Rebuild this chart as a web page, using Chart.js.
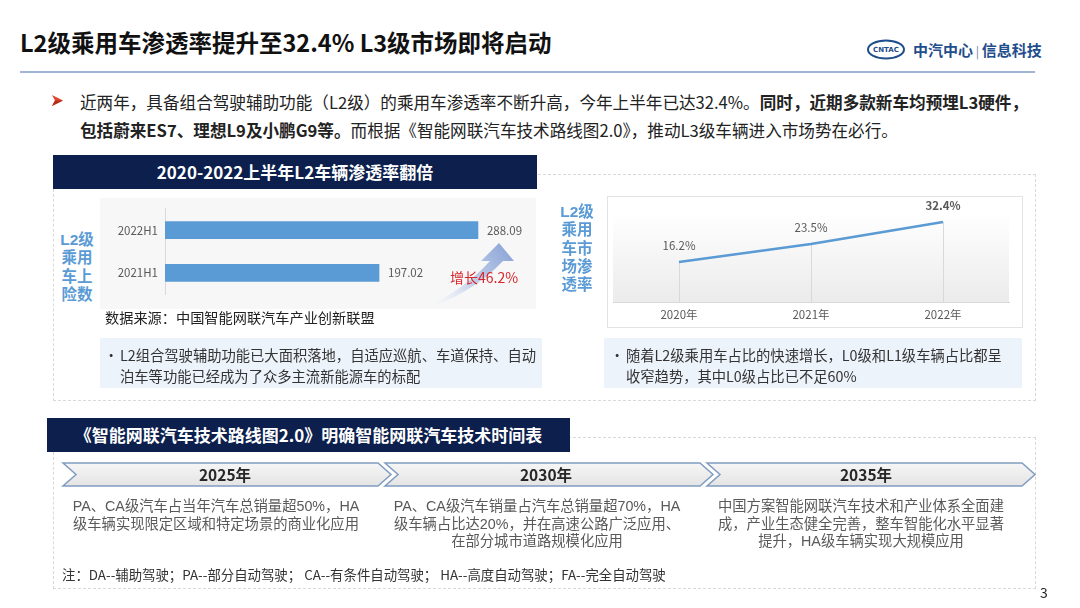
<!DOCTYPE html>
<html><head><meta charset="utf-8">
<script src="https://cdn.jsdelivr.net/npm/chart.js@4.4.1/dist/chart.umd.min.js"></script>
<style>
html,body{margin:0;padding:0}
body{width:1080px;height:608px;position:relative;background:#fff;font-family:"Noto Sans CJK SC","Noto Sans",sans-serif;overflow:hidden;color:#333}
.a{position:absolute;white-space:nowrap}
.navy{background:#0c1f4d;color:#fff;font-weight:bold;text-align:center}
.lf{font-family:"Liberation Sans","Noto Sans CJK SC",sans-serif}
.vlab{color:#5b9bd5;font-weight:bold;text-align:center}
.blue{background:#edf3fb}
.col{text-align:center;color:#595959;font-size:14.3px;line-height:17.5px}
</style></head><body>

<!-- title -->
<div class="a" style="left:20px;top:27px;font-size:23.5px;line-height:30px;font-weight:bold;color:#111">L2级乘用车渗透率提升至32.4% L3级市场即将启动</div>
<svg class="a" style="left:866px;top:38px" width="44" height="24"><ellipse cx="20" cy="11.5" rx="18" ry="9" fill="none" stroke="#1f4e8c" stroke-width="2"/><text x="20" y="14" font-size="7" font-weight="bold" fill="#1f4e8c" text-anchor="middle" font-family="DejaVu Sans">CNTAC</text></svg>
<div class="a" style="left:913px;top:39px;font-size:15px;line-height:22px;font-weight:bold;color:#1f4e8c">中汽中心<span style="font-weight:normal;font-size:12px;color:#6a7fa8"> | </span>信息科技</div>
<div class="a" style="left:20px;top:71px;width:1015px;height:2px;background:#9fb4d6"></div>

<!-- paragraph -->
<svg class="a" style="left:51px;top:94px" width="14" height="14"><polygon points="1,1 12,6.5 1,12 4,6.5" fill="#e0472a"/><polygon points="1,12 12,6.5 4,6.5" fill="#b52d18"/></svg>
<div class="a" style="left:80px;top:88px;font-size:16.6px;line-height:28px;color:#222">近两年，具备组合驾驶辅助功能（L2级）的乘用车渗透率不断升高，今年上半年已达32.4%。<b>同时，近期多款新车均预埋L3硬件，</b><br><b>包括蔚来ES7、理想L9及小鹏G9等。</b>而根据《智能网联汽车技术路线图2.0》，推动L3级车辆进入市场势在必行。</div>

<!-- upper section -->
<div class="a" style="left:53px;top:174px;width:981px;height:225px;border:1px dashed #d9d9d9"></div>
<div class="a navy" style="left:53px;top:155px;width:484px;height:34px;line-height:34px;font-size:17px">2020-2022上半年L2车辆渗透率翻倍</div>

<div class="a" style="left:100px;top:198px;width:436px;height:111px;background:#f7f7f7"></div>
<div class="a vlab lf" style="left:56px;top:231px;width:42px;font-size:15.5px;line-height:18.3px">L2级<br>乘用<br>车上<br>险数</div>
<svg class="a" style="left:0;top:0" width="1080" height="608">
<defs><linearGradient id="ag" x1="420" y1="310" x2="505" y2="245" gradientUnits="userSpaceOnUse"><stop offset="0" stop-color="#ffffff" stop-opacity="0"/><stop offset="0.55" stop-color="#c3d0ea"/><stop offset="1" stop-color="#8ea7d8"/></linearGradient></defs>
<path d="M418 311 Q470 296 503 261 L514 261 L499 243 L481 261 L490 261 Q462 292 418 311 Z" fill="url(#ag)"/>
</svg>
<div class="a" style="left:100px;top:195px;width:436px;height:113px"><canvas id="bar" width="436" height="113"></canvas></div>
<div class="a" style="left:450px;top:267px;font-size:14px;line-height:20px;color:#d8262c">增长46.2%</div>
<div class="a" style="left:105px;top:307px;font-size:14.2px;line-height:20px;color:#222">数据来源：中国智能网联汽车产业创新联盟</div>

<div class="a vlab lf" style="left:556px;top:203px;width:42px;font-size:15.5px;line-height:18.3px">L2级<br>乘用<br>车市<br>场渗<br>透率</div>
<div class="a" style="left:607px;top:196px;width:414px;height:130px;border:1px solid #e3e3e3;background:#fff"></div>
<div class="a" style="left:608px;top:197px;width:414px;height:130px"><canvas id="line" width="414" height="130"></canvas></div>

<div class="a blue" style="left:100px;top:338px;width:442px;height:50px"></div>
<div class="a" style="left:104px;top:344px;font-size:14.3px;line-height:21px;color:#333">•</div>
<div class="a" style="left:120px;top:344px;font-size:14.3px;line-height:21px;color:#333">L2组合驾驶辅助功能已大面积落地，自适应巡航、车道保持、自动<br>泊车等功能已经成为了众多主流新能源车的标配</div>
<div class="a blue" style="left:604px;top:338px;width:418px;height:50px"></div>
<div class="a" style="left:610px;top:344px;font-size:14.3px;line-height:21px;color:#333">•</div>
<div class="a" style="left:626px;top:344px;font-size:14.3px;line-height:21px;color:#333">随着L2级乘用车占比的快速增长，L0级和L1级车辆占比都呈<br>收窄趋势，其中L0级占比已不足60%</div>

<!-- lower section -->
<div class="a" style="left:53px;top:437px;width:981px;height:150px;border:1px dashed #d9d9d9"></div>
<div class="a navy" style="left:47px;top:418px;width:523px;height:34px;line-height:34px;font-size:17px">《智能网联汽车技术路线图2.0》明确智能网联汽车技术时间表</div>
<svg class="a" style="left:0;top:0" width="1080" height="608">
<defs><linearGradient id="cg" x1="0" y1="0" x2="0" y2="1"><stop offset="0" stop-color="#f6f6f6"/><stop offset="1" stop-color="#e4e4e4"/></linearGradient></defs>
<polygon points="63,463 378,463 391,474.5 378,486 63,486 76,474.5" fill="url(#cg)" stroke="#7f9cc0" stroke-width="1.5"/>
<polygon points="385,463 700,463 713,474.5 700,486 385,486 398,474.5" fill="url(#cg)" stroke="#7f9cc0" stroke-width="1.5"/>
<polygon points="707,463 1022,463 1035,474.5 1022,486 707,486 720,474.5" fill="url(#cg)" stroke="#7f9cc0" stroke-width="1.5"/>
</svg>
<div class="a" style="left:125px;top:463px;width:200px;text-align:center;font-size:15.5px;line-height:23px;font-weight:bold;color:#262626">2025年</div>
<div class="a" style="left:446px;top:463px;width:200px;text-align:center;font-size:15.5px;line-height:23px;font-weight:bold;color:#262626">2030年</div>
<div class="a" style="left:766px;top:463px;width:200px;text-align:center;font-size:15.5px;line-height:23px;font-weight:bold;color:#262626">2035年</div>
<div class="a col lf" style="left:66px;top:498px;width:300px">PA、CA级汽车占当年汽车总销量超50%，HA<br>级车辆实现限定区域和特定场景的商业化应用</div>
<div class="a col lf" style="left:387px;top:498px;width:300px">PA、CA级汽车销量占汽车总销量超70%，HA<br>级车辆占比达20%，并在高速公路广泛应用、<br>在部分城市道路规模化应用</div>
<div class="a col lf" style="left:711px;top:498px;width:300px">中国方案智能网联汽车技术和产业体系全面建<br>成，产业生态健全完善，整车智能化水平显著<br>提升，HA级车辆实现大规模应用</div>
<div class="a" style="left:62px;top:564px;font-size:13.4px;line-height:20px;color:#333">注：DA--辅助驾驶；PA--部分自动驾驶； CA--有条件自动驾驶； HA--高度自动驾驶；FA--完全自动驾驶</div>
<div class="a" style="left:1040px;top:582px;font-size:14px;line-height:20px;color:#222">3</div>

<script>
const barCategories = ['2022H1', '2021H1'];
const barValues = [288.09, 197.02];
const lineCategories = ['2020年', '2021年', '2022年'];
const lineValues = [16.2, 23.5, 32.4];

const FONT = '"Noto Sans CJK SC", "Noto Sans", sans-serif';
Chart.defaults.font.family = FONT;
Chart.defaults.animation = false;

const barLabelPlugin = {
  id: 'barLabels',
  afterDatasetsDraw(chart) {
    const ctx = chart.ctx;
    const meta = chart.getDatasetMeta(0);
    ctx.save();
    ctx.font = '11.5px ' + FONT;
    ctx.fillStyle = '#595959';
    ctx.textAlign = 'left';
    ctx.textBaseline = 'middle';
    meta.data.forEach((el, i) => ctx.fillText(barValues[i].toFixed(2), el.x + 9, el.y));
    ctx.restore();
  }
};

new Chart(document.getElementById('bar'), {
  type: 'bar',
  data: { labels: barCategories, datasets: [{ data: barValues, backgroundColor: '#5b9bd5', barThickness: 17 }] },
  options: {
    indexAxis: 'y', responsive: false,
    layout: { padding: { top: 4, bottom: 5, right: 6, left: 0 } },
    plugins: { legend: { display: false }, tooltip: { enabled: false } },
    scales: {
      x: { display: false, min: 0, max: 336 },
      y: {
        grid: { display: false, drawTicks: false },
        border: { display: true, color: '#d9d9d9', width: 1 },
        ticks: { color: '#595959', font: { size: 11.5 }, padding: 7 },
        afterFit(s) { s.width = 65; }
      }
    }
  },
  plugins: [barLabelPlugin]
});

const linePlugin = {
  id: 'lineDeco',
  beforeDatasetsDraw(chart) {
    const { ctx, chartArea: a } = chart;
    ctx.save();
    const g = ctx.createLinearGradient(0, a.top, 0, a.bottom);
    g.addColorStop(0, '#ffffff');
    g.addColorStop(1, '#ebebeb');
    ctx.fillStyle = g;
    ctx.fillRect(a.left, a.top, a.right - a.left, a.bottom - a.top);
    ctx.strokeStyle = '#d9d9d9';
    ctx.lineWidth = 1;
    chart.getDatasetMeta(0).data.forEach(p => {
      ctx.beginPath();
      ctx.moveTo(Math.round(p.x) + 0.5, p.y);
      ctx.lineTo(Math.round(p.x) + 0.5, a.bottom);
      ctx.stroke();
    });
    ctx.restore();
  },
  afterDatasetsDraw(chart) {
    const ctx = chart.ctx;
    ctx.save();
    ctx.fillStyle = '#595959';
    ctx.textAlign = 'center';
    ctx.textBaseline = 'middle';
    chart.getDatasetMeta(0).data.forEach((p, i) => {
      const last = i === lineValues.length - 1;
      ctx.font = (last ? 'bold ' : '') + '11.5px ' + FONT;
      ctx.fillText(lineValues[i].toFixed(1) + '%', p.x, p.y - 16);
    });
    ctx.restore();
  }
};

new Chart(document.getElementById('line'), {
  type: 'line',
  data: { labels: lineCategories, datasets: [{ data: lineValues, borderColor: '#5b9bd5', borderWidth: 2.5, pointRadius: 0, tension: 0, fill: false }] },
  options: {
    responsive: false,
    layout: { padding: { top: 16, bottom: 0, left: 5, right: 13 } },
    plugins: { legend: { display: false }, tooltip: { enabled: false } },
    scales: {
      y: { display: false, min: 0, max: 36 },
      x: {
        offset: true,
        grid: { display: false, drawTicks: false },
        border: { display: true, color: '#d9d9d9', width: 1 },
        ticks: { color: '#595959', font: { size: 11.5 }, padding: 6 },
        afterFit(s) { s.height = 25; }
      }
    }
  },
  plugins: [linePlugin]
});
</script>
</body></html>
